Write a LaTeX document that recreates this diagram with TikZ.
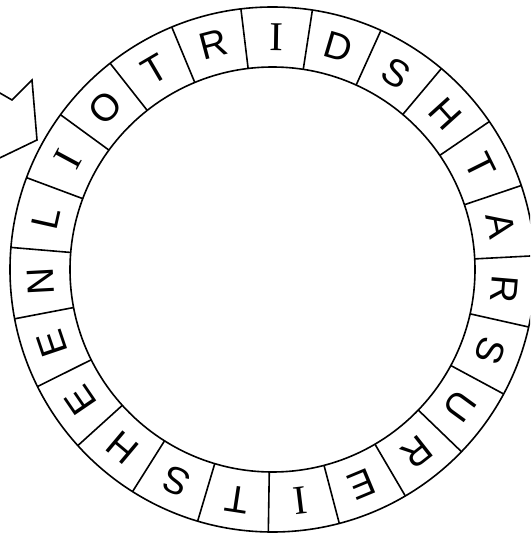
\documentclass[tikz,border=0pt]{standalone}
\usepackage{fontspec}
\setmainfont{Liberation Sans}
\newfontfamily\serifI{Liberation Serif}
\begin{document}
\begin{tikzpicture}[x=1pt,y=1pt,
  ringline/.style={line width=1.6pt, line join=miter},
  letter/.style={font=\fontsize{38}{38}\selectfont, inner sep=0pt, anchor=center}]
\useasboundingbox (-272.5,-265.5) rectangle (257.5,269.5);
\clip (-272.5,-265.5) rectangle (257.5,269.5);
\coordinate (c) at (0,0);
\draw[ringline] (c) circle[radius=202.5];
\draw[ringline] (c) circle[radius=262.5];
\foreach \k in {0,...,22} {
  \pgfmathsetmacro\dang{3+\k*360/23}
  \draw[ringline] (\dang:202.5) -- (\dang:262.5);
}
\foreach \ch [count=\i from 0] in {A,T,H,S,D,{\serifI\fontsize{41}{41}\selectfont I},R,T,O,{\serifI\fontsize{41}{41}\selectfont I},L,N,E,E,H,S,T,{\serifI\fontsize{41}{41}\selectfont I},E,R,U,S,R} {
  \pgfmathsetmacro\ang{3+(\i+0.5)*360/23}
  \node[letter, rotate=\ang-90] (L\i) at (\ang:232.5) {\ch};
}
% arrow (image coords converted: X = x-272.5, Y = 269.5-y)
\draw[ringline] (-303.8,194.5) -- (-260.5,169.5) -- (-240.5,189.5) -- (-235.5,129.5)
  -- (-289.5,103.5) -- (-275.6,127.8) -- (-318.9,152.8);
\end{tikzpicture}
\end{document}
